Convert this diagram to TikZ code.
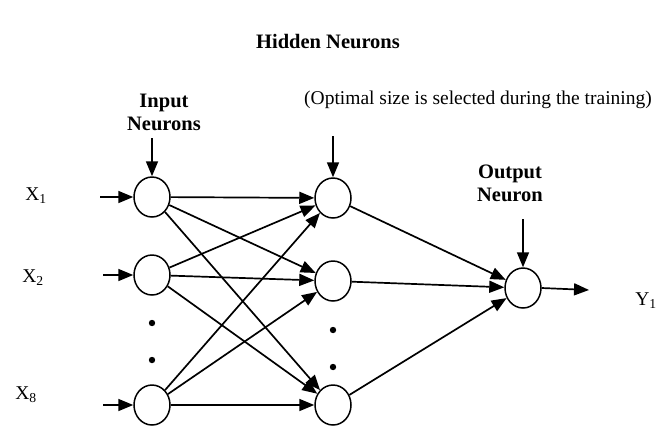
\documentclass[tikz,border=0pt]{standalone}
\usepackage{fontspec}
\setmainfont{Liberation Serif}
\usetikzlibrary{arrows.meta,shapes.geometric}
\tikzset{
  neuron/.style={draw,ellipse,line width=1.5pt,minimum width=36pt,
    minimum height=40pt,inner sep=0pt},
  link/.style={line width=1.7pt,-{Triangle[length=15pt,width=12pt]}},
  title/.style={font=\bfseries\fontsize{20.5}{23}\selectfont,align=center},
  plain/.style={font=\fontsize{19.5}{22}\selectfont}
}
\begin{document}
\begin{tikzpicture}[x=1pt,y=-1pt]
        \useasboundingbox (0,0) rectangle (660,426);
        %% Titles
        \node[title] (hidtitle) at (328,42) {Hidden Neurons};
        \node[title] (intitle) at (164,112) {Input\\Neurons};
        \node[plain] (note) at (478,100) {(Optimal size is selected during the training)};
        \node[title] (outtitle) at (510,183) {Output\\Neuron};
        %% Neurons
        \node[neuron] (in1) at (152,197) {};
        \node[neuron] (in2) at (152,275) {};
        \node[neuron] (in8) at (152,405) {};
        \node[neuron] (hid1) at (333,198) {};
        \node[neuron] (hid2) at (333,281) {};
        \node[neuron] (hidn) at (333,405) {};
        \node[neuron] (out) at (523,288) {};
        %% Dots
        \fill (152,323) circle [radius=3.2pt];
        \fill (152,360) circle [radius=3.2pt];
        \fill (333,330) circle [radius=3.2pt];
        \fill (333,367) circle [radius=3.2pt];
        %% Inputs and output
        \node[plain] (x1) at (36,196) {X\textsubscript{1}};
        \node[plain] (x2) at (33,278) {X\textsubscript{2}};
        \node[plain] (x8) at (26,395) {X\textsubscript{8}};
        \node[plain] (y1) at (646,301) {Y\textsubscript{1}};
        \coordinate (src1) at (100,197);
        \coordinate (src2) at (103,275);
        \coordinate (src8) at (103,405);
        \coordinate (snk) at (589,290);
        \coordinate (topin) at (152,138);
        \coordinate (tophid) at (333,136);
        \coordinate (topout) at (523,219);
        \draw[link] (src1) -- (in1);
        \draw[link] (src2) -- (in2);
        \draw[link] (src8) -- (in8);
        \draw[link] (topin) -- (in1);
        \draw[link] (tophid) -- (hid1);
        \draw[link] (topout) -- (out);
        \draw[link] (out.east) -- (snk);
        %% Connections
        \foreach \a in {in1,in2,in8}
            \foreach \b in {hid1,hid2,hidn}
                \draw[link] (\a) -- (\b);
        \foreach \b in {hid1,hid2,hidn}
            \draw[link] (\b) -- (out);
    \end{tikzpicture}
\end{document}
